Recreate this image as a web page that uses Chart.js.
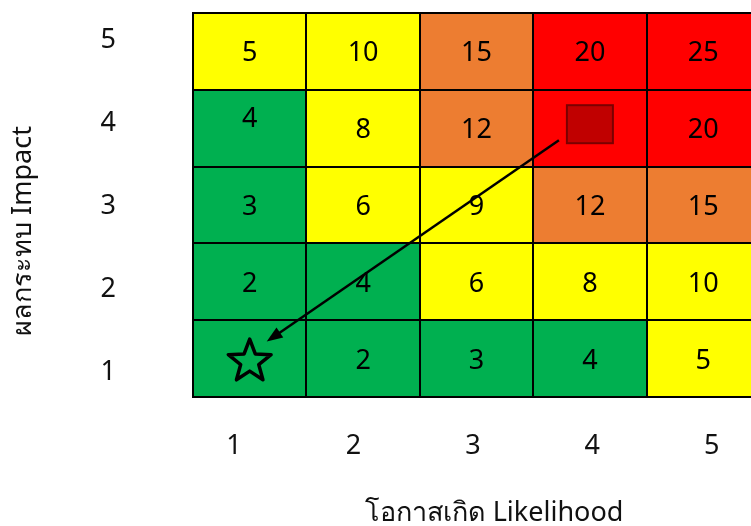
<!DOCTYPE html>
<html>
<head>
<meta charset="utf-8">
<script src="https://cdn.jsdelivr.net/npm/chart.js@4.4.1/dist/chart.umd.min.js"></script>
<style>
  html, body { margin: 0; padding: 0; background: #fff; overflow: hidden; width: 751px; height: 526px; }
  #wrap { width: 770px; height: 526px; }
</style>
</head>
<body>
<div id="wrap"><canvas id="matrix" width="770" height="526"></canvas></div>
<script>
// Axis categories and titles
const likelihoodLabels = ['1', '2', '3', '4', '5'];
const impactLabels = ['1', '2', '3', '4', '5'];
const xTitle = 'โอกาสเกิด Likelihood';
const yTitle = 'ผลกระทบ Impact';

// Risk score printed in each cell, likelihood 1..5 left to right
// (null where a marker sits in the cell instead of a number)
const scoreImpact1 = [null, 2, 3, 4, 5];
const scoreImpact2 = [2, 4, 6, 8, 10];
const scoreImpact3 = [3, 6, 9, 12, 15];
const scoreImpact4 = [4, 8, 12, null, 20];
const scoreImpact5 = [5, 10, 15, 20, 25];

// Risk level of each cell: L low, M medium, H high, E extreme
const levelImpact1 = ['L', 'L', 'L', 'L', 'M'];
const levelImpact2 = ['L', 'L', 'M', 'M', 'M'];
const levelImpact3 = ['L', 'M', 'M', 'H', 'H'];
const levelImpact4 = ['L', 'M', 'H', 'E', 'E'];
const levelImpact5 = ['M', 'M', 'H', 'E', 'E'];

// Each cell spans one impact unit
const cellSpan = [1, 1, 1, 1, 1];

// Current risk and target risk positions
const currentRisk = { likelihood: '4', impact: 4 };
const targetRisk = { likelihood: '1', impact: 1 };

const levelColors = { L: '#00B050', M: '#FFFF00', H: '#ED7D31', E: '#FF0000' };

const scoreRows = [scoreImpact1, scoreImpact2, scoreImpact3, scoreImpact4, scoreImpact5];
const levelRows = [levelImpact1, levelImpact2, levelImpact3, levelImpact4, levelImpact5];

const FONT = "'Noto Sans', 'Open Sans', sans-serif";

const datasets = levelRows.map((levels, i) => ({
  label: 'Impact ' + impactLabels[i],
  data: cellSpan.slice(),
  backgroundColor: levels.map(l => levelColors[l]),
  borderWidth: 0,
  barPercentage: 1,
  categoryPercentage: 1,
  stack: 'matrix'
}));

function drawStar(ctx, cx, cy, rOuter, rInner) {
  ctx.beginPath();
  for (let k = 0; k < 10; k++) {
    const r = k % 2 === 0 ? rOuter : rInner;
    const a = -Math.PI / 2 + k * Math.PI / 5;
    const px = cx + r * Math.cos(a);
    const py = cy + r * Math.sin(a);
    if (k === 0) ctx.moveTo(px, py); else ctx.lineTo(px, py);
  }
  ctx.closePath();
}

function noPadding(axis) {
  axis.paddingTop = 0;
  axis.paddingBottom = 0;
  axis.paddingLeft = 0;
  axis.paddingRight = 0;
}

const overlay = {
  id: 'matrixOverlay',
  afterDraw(chart) {
    const { ctx, scales } = chart;
    const xs = scales.x, ys = scales.y;
    ctx.save();

    // scores in the cells
    ctx.fillStyle = '#000';
    ctx.font = '27px ' + FONT;
    ctx.textAlign = 'center';
    ctx.textBaseline = 'alphabetic';
    scoreRows.forEach((row, ri) => {
      const cy = ys.getPixelForValue(ri + 0.5);
      row.forEach((v, ci) => {
        if (v === null) return;
        const cx = xs.getPixelForValue(ci);
        // the first cell of impact 4 sits a little higher in its box
        const lift = (ri === 3 && ci === 0) ? 11 : 0;
        ctx.fillText(String(v), cx, cy + 10 - lift);
      });
    });

    // current risk: dark red square
    const sx = xs.getPixelForValue(likelihoodLabels.indexOf(currentRisk.likelihood));
    const sy = ys.getPixelForValue(currentRisk.impact - 0.5) - 4;
    ctx.fillStyle = '#C00000';
    ctx.strokeStyle = '#7A0000';
    ctx.lineWidth = 2;
    ctx.fillRect(sx - 23, sy - 19, 46, 38);
    ctx.strokeRect(sx - 23, sy - 19, 46, 38);

    // target risk: outlined star
    const tx = xs.getPixelForValue(likelihoodLabels.indexOf(targetRisk.likelihood));
    const ty = ys.getPixelForValue(targetRisk.impact - 0.5) + 3;
    ctx.strokeStyle = '#000';
    ctx.lineWidth = 3.5;
    ctx.lineJoin = 'round';
    drawStar(ctx, tx, ty, 22.5, 9.5);
    ctx.stroke();

    // arrow from current to target
    const x0 = sx - 31, y0 = sy + 16;
    const x1 = tx + 17, y1 = ty - 20;
    const ang = Math.atan2(y1 - y0, x1 - x0);
    ctx.strokeStyle = '#000';
    ctx.lineWidth = 2.5;
    ctx.lineJoin = 'miter';
    ctx.beginPath();
    ctx.moveTo(x0, y0);
    ctx.lineTo(x1 - 10 * Math.cos(ang), y1 - 10 * Math.sin(ang));
    ctx.stroke();
    ctx.fillStyle = '#000';
    ctx.beginPath();
    ctx.moveTo(x1, y1);
    ctx.lineTo(x1 - 16 * Math.cos(ang) + 6 * Math.sin(ang), y1 - 16 * Math.sin(ang) - 6 * Math.cos(ang));
    ctx.lineTo(x1 - 16 * Math.cos(ang) - 6 * Math.sin(ang), y1 - 16 * Math.sin(ang) + 6 * Math.cos(ang));
    ctx.closePath();
    ctx.fill();

    // axis titles
    ctx.fillStyle = '#111';
    ctx.font = '27px ' + FONT;
    ctx.textAlign = 'center';
    ctx.textBaseline = 'alphabetic';
    ctx.fillText(xTitle, 494, 521);
    ctx.translate(31, 231);
    ctx.rotate(-Math.PI / 2);
    ctx.fillText(yTitle, 0, 0);

    ctx.restore();
  }
};

new Chart(document.getElementById('matrix'), {
  type: 'bar',
  data: { labels: likelihoodLabels, datasets },
  options: {
    responsive: false,
    animation: false,
    layout: { padding: { top: 13, right: 10, left: 0, bottom: 0 } },
    plugins: { legend: { display: false }, tooltip: { enabled: false } },
    scales: {
      x: {
        type: 'category',
        position: 'bottom',
        weight: 0,
        grid: { color: '#000', lineWidth: 2, drawTicks: false, offset: true, z: 1 },
        border: { display: true, color: '#000', width: 2, z: 1 },
        ticks: { display: false },
        afterFit(axis) { axis.height = 0; noPadding(axis); }
      },
      y: {
        type: 'linear',
        position: 'left',
        weight: 0,
        stacked: true,
        min: 0,
        max: 5,
        grid: { color: '#000', lineWidth: 2, drawTicks: false, z: 1 },
        border: { display: true, color: '#000', width: 2, z: 1 },
        ticks: { display: false, stepSize: 1 },
        afterFit(axis) { axis.width = 0; noPadding(axis); }
      },
      xl: {
        type: 'linear',
        position: 'bottom',
        weight: 1,
        offset: false,
        min: 0.656,
        max: 5.405,
        grid: { display: false, drawTicks: false, offset: false },
        border: { display: false },
        ticks: { color: '#111', font: { family: FONT, size: 27 }, padding: 33, maxRotation: 0 },
        afterBuildTicks(axis) { axis.ticks = likelihoodLabels.map(v => ({ value: Number(v) })); },
        afterFit(axis) { axis.height = 129; noPadding(axis); }
      },
      yl: {
        type: 'linear',
        position: 'left',
        weight: 1,
        offset: false,
        min: 0.698,
        max: 5.332,
        grid: { display: false, drawTicks: false, offset: false },
        border: { display: false },
        ticks: { color: '#111', font: { family: FONT, size: 27 }, padding: 77 },
        afterBuildTicks(axis) { axis.ticks = impactLabels.map(v => ({ value: Number(v) })); },
        afterFit(axis) { axis.width = 193; noPadding(axis); }
      }
    }
  },
  plugins: [overlay]
});
</script>
</body>
</html>
